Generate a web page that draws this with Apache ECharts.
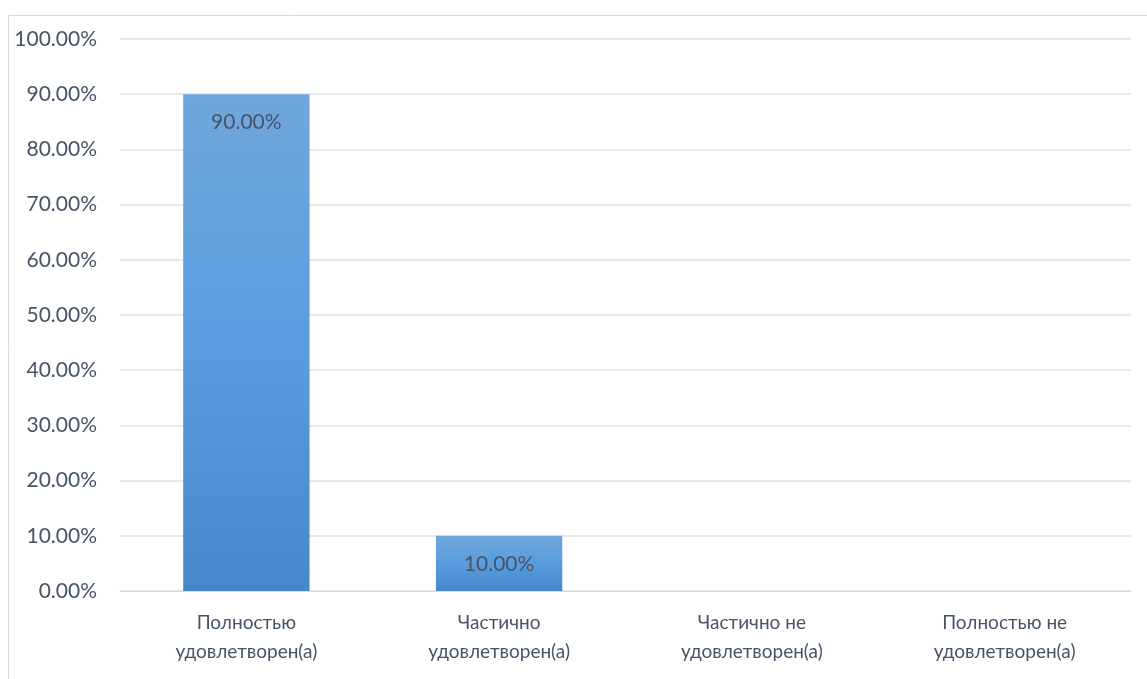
<!DOCTYPE html>
<html>
<head>
<meta charset="utf-8">
<script src="https://cdn.jsdelivr.net/npm/echarts@6/dist/echarts.min.js"></script>
<style>
html, body { margin: 0; padding: 0; background: #fff; }
#chart { width: 1147px; height: 679px; }
</style>
</head>
<body>
<div id="chart"></div>
<script>
// данные диаграммы
var categories = ['Полностью\nудовлетворен(а)', 'Частично\nудовлетворен(а)', 'Частично не\nудовлетворен(а)', 'Полностью не\nудовлетворен(а)'];
var shares = [90, 10, null, null];
var yTicks = [0, 10, 20, 30, 40, 50, 60, 70, 80, 90, 100];

var textColor = '#475467';
var font = 'Lato, "Open Sans", sans-serif';

var myChart = echarts.init(document.getElementById('chart'));
var option = {
    animation: false,
    graphic: [{
        type: 'rect',
        shape: { x: 8.5, y: 15.5, width: 1160, height: 700 },
        style: { fill: 'none', stroke: '#d9d9d9', lineWidth: 1 },
        silent: true
    }],
    grid: { left: 120, right: 16, top: 39, bottom: 88 },
    xAxis: {
        type: 'category',
        data: categories,
        axisLine: { show: true, lineStyle: { color: '#d9d9d9', width: 1 } },
        axisTick: { show: false },
        axisLabel: {
            color: textColor, fontSize: 19, fontFamily: font,
            lineHeight: 29, margin: 17, interval: 0
        }
    },
    yAxis: {
        type: 'value',
        min: yTicks[0],
        max: yTicks[yTicks.length - 1],
        interval: 10,
        axisLine: { show: false },
        axisTick: { show: false },
        splitLine: { lineStyle: { color: '#dfe1e6', width: 1.5 } },
        axisLabel: {
            color: textColor, fontSize: 21, fontFamily: font, margin: 23,
            formatter: function (v) { return v.toFixed(2) + '%'; }
        }
    },
    series: [{
        type: 'bar',
        data: shares,
        barWidth: '50%',
        itemStyle: {
            color: new echarts.graphic.LinearGradient(0, 0, 0, 1, [
                { offset: 0, color: '#70a7dc' },
                { offset: 0.5, color: '#599ddf' },
                { offset: 1, color: '#4589ca' }
            ])
        },
        label: {
            show: true,
            position: 'insideTop',
            distance: 18,
            color: textColor, fontSize: 21, fontFamily: font,
            formatter: function (p) { return p.value.toFixed(2) + '%'; }
        }
    }]
};
myChart.setOption(option);
</script>
</body>
</html>
